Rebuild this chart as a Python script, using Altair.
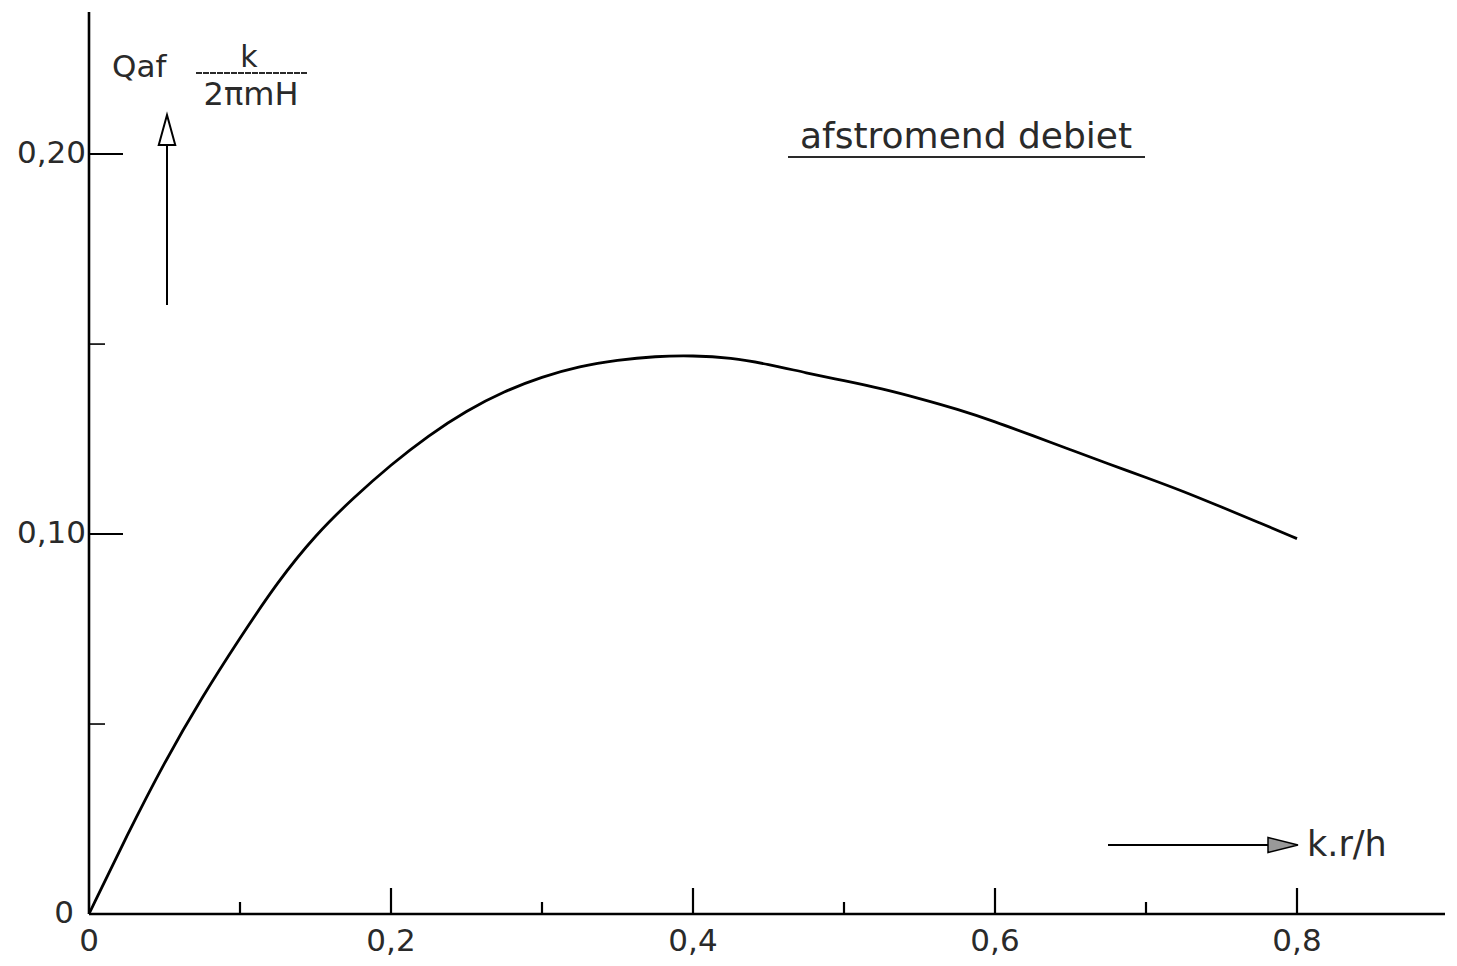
import altair as alt
import pandas as pd

# curve data
x_vals = [0, 0.025, 0.05, 0.075, 0.1, 0.125, 0.15, 0.175, 0.2, 0.225, 0.25, 0.275,
          0.3, 0.325, 0.35, 0.375, 0.4, 0.425, 0.45, 0.475, 0.5, 0.525, 0.55,
          0.575, 0.6, 0.625, 0.65, 0.675, 0.7, 0.725, 0.75, 0.775, 0.8]
y_vals = [0, 0.0206, 0.0400, 0.0572, 0.0727, 0.0875, 0.0998, 0.1095, 0.1183,
          0.1260, 0.1325, 0.1376, 0.1414, 0.1442, 0.1458, 0.1468, 0.1470, 0.1464,
          0.1447, 0.1424, 0.1404, 0.1383, 0.1357, 0.1329, 0.1296, 0.1259, 0.1222,
          0.1185, 0.1149, 0.1112, 0.1071, 0.1030, 0.0988]

x_long_ticks = [0.2, 0.4, 0.6, 0.8]
x_short_ticks = [0.1, 0.3, 0.5, 0.7]
x_label_vals = [0, 0.2, 0.4, 0.6, 0.8]
x_label_text = ["0", "0,2", "0,4", "0,6", "0,8"]
y_long_ticks = [0.10, 0.20]
y_short_ticks = [0.05, 0.15]
y_label_vals = [0.10, 0.20]
y_label_text = ["0,10", "0,20"]

W, H = 1359, 902
FONT = "DejaVu Sans"
INK = "#2a2a2a"

xs = alt.Scale(domain=[0, 0.9], nice=False, zero=False)
ys = alt.Scale(domain=[0, 0.2374], nice=False, zero=False)

curve_df = pd.DataFrame({"x": x_vals, "y": y_vals})
curve = alt.Chart(curve_df).mark_line(color="black", strokeWidth=2.8, interpolate="basis").encode(
    x=alt.X("x:Q", scale=xs, axis=None),
    y=alt.Y("y:Q", scale=ys, axis=None),
)

# axis lines
yaxis = alt.Chart(pd.DataFrame({"a": [0]})).mark_rule(color="black", strokeWidth=2.6).encode(
    x=alt.value(0), y=alt.value(0), y2=alt.value(H))
xaxis = alt.Chart(pd.DataFrame({"a": [0]})).mark_rule(color="black", strokeWidth=2.6).encode(
    x=alt.value(0), x2=alt.value(1356), y=alt.value(H))

# ticks
xl = alt.Chart(pd.DataFrame({"x": x_long_ticks})).mark_rule(color="black", strokeWidth=2.2).encode(
    x=alt.X("x:Q", scale=xs, axis=None), y=alt.value(H - 26), y2=alt.value(H))
xsh = alt.Chart(pd.DataFrame({"x": x_short_ticks})).mark_rule(color="black", strokeWidth=2.2).encode(
    x=alt.X("x:Q", scale=xs, axis=None), y=alt.value(H - 12), y2=alt.value(H))
yl = alt.Chart(pd.DataFrame({"y": y_long_ticks})).mark_rule(color="black", strokeWidth=2).encode(
    y=alt.Y("y:Q", scale=ys, axis=None), x=alt.value(0), x2=alt.value(34))
ysh = alt.Chart(pd.DataFrame({"y": y_short_ticks})).mark_rule(color="black", strokeWidth=1.6).encode(
    y=alt.Y("y:Q", scale=ys, axis=None), x=alt.value(0), x2=alt.value(16))

# tick labels
xlab = alt.Chart(pd.DataFrame({"x": x_label_vals, "t": x_label_text})).mark_text(
    font=FONT, fontSize=31, color=INK, align="center", baseline="middle").encode(
    x=alt.X("x:Q", scale=xs, axis=None), y=alt.value(H + 28), text="t:N")
ylab = alt.Chart(pd.DataFrame({"y": y_label_vals, "t": y_label_text})).mark_text(
    font=FONT, fontSize=31, color=INK, align="right", baseline="middle").encode(
    y=alt.Y("y:Q", scale=ys, axis=None), x=alt.value(-3), text="t:N")
y0lab = alt.Chart(pd.DataFrame({"y": [0], "t": ["0"]})).mark_text(
    font=FONT, fontSize=31, color=INK, align="right", baseline="middle").encode(
    y=alt.Y("y:Q", scale=ys, axis=None), x=alt.value(-15), text="t:N")

# y-axis title: Qaf * k / (2πmH) with upward arrow
one = pd.DataFrame({"a": [0]})
qaf = alt.Chart(one).mark_text(font=FONT, fontSize=31, color=INK, align="left", baseline="alphabetic").encode(
    x=alt.value(23), y=alt.value(65), text=alt.value("Qaf"))
k_txt = alt.Chart(one).mark_text(font=FONT, fontSize=30, color=INK, align="center", baseline="alphabetic").encode(
    x=alt.value(160), y=alt.value(55), text=alt.value("k"))
frac = alt.Chart(one).mark_rule(color=INK, strokeWidth=2, strokeDash=[6, 1]).encode(
    x=alt.value(107), x2=alt.value(218), y=alt.value(61))
den = alt.Chart(one).mark_text(font=FONT, fontSize=32, color=INK, align="center", baseline="alphabetic").encode(
    x=alt.value(162), y=alt.value(93), text=alt.value("2πmH"))
varrow = alt.Chart(one).mark_rule(color="black", strokeWidth=2).encode(
    x=alt.value(78), y=alt.value(130), y2=alt.value(293))
vhead = alt.Chart(one).mark_point(shape="M-0.55,1L0,-1L0.55,1Z", size=900, filled=True,
                                  fill="white", stroke="black", strokeWidth=2, opacity=1).encode(
    x=alt.value(78), y=alt.value(118))

# x-axis title with arrow
harrow = alt.Chart(one).mark_rule(color="black", strokeWidth=1.8).encode(
    x=alt.value(1019), x2=alt.value(1190), y=alt.value(833))
hhead = alt.Chart(one).mark_point(shape="M-1,-0.5L1,0L-1,0.5Z", size=900, filled=True,
                                  fill="#999999", stroke="black", strokeWidth=1.5, opacity=1).encode(
    x=alt.value(1194), y=alt.value(833))
kr = alt.Chart(one).mark_text(font=FONT, fontSize=35, color=INK, align="left", baseline="alphabetic").encode(
    x=alt.value(1218), y=alt.value(844), text=alt.value("k.r/h"))

# caption
cap = alt.Chart(one).mark_text(font=FONT, fontSize=36, color=INK, align="center", baseline="alphabetic").encode(
    x=alt.value(877), y=alt.value(136), text=alt.value("afstromend debiet"))
capline = alt.Chart(one).mark_rule(color=INK, strokeWidth=2.2).encode(
    x=alt.value(699), x2=alt.value(1056), y=alt.value(145))

chart = alt.layer(
    yaxis, xaxis, xl, xsh, yl, ysh, xlab, ylab, y0lab,
    qaf, k_txt, frac, den, varrow, vhead, harrow, hhead, kr, cap, capline, curve
).properties(
    width=W, height=H,
    autosize=alt.AutoSizeParams(type="none"),
    padding={"left": 81, "top": 4, "right": 0, "bottom": 50},
    background="white",
).configure_view(stroke=None)

chart.save("out.html", embed_options={"renderer": "svg", "actions": False})
